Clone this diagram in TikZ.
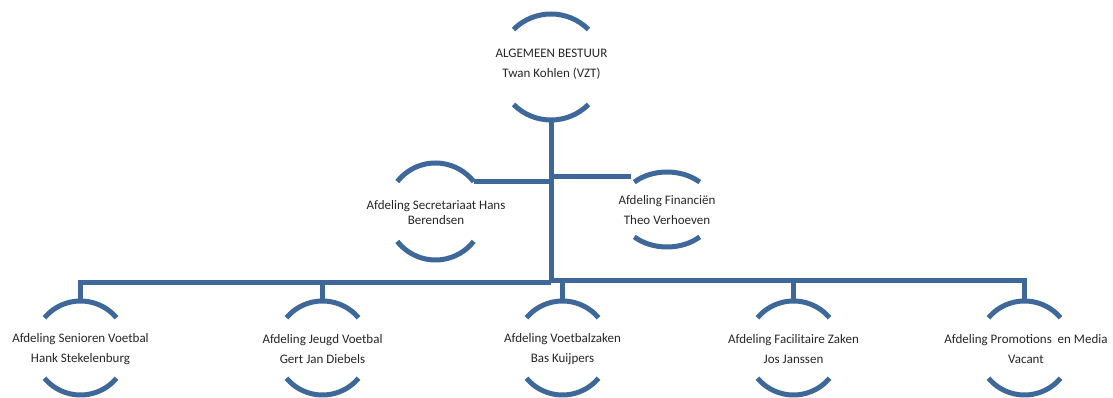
\documentclass[tikz,border=0pt]{standalone}
\usepackage{fontspec}
\setmainfont{Carlito}
\usetikzlibrary{calc}
\definecolor{orgblue}{HTML}{3E6899}
\tikzset{
  arcline/.style={draw=orgblue, line width=5pt},
  conn/.style={draw=orgblue, line width=5pt},
  unittext/.style={inner sep=0pt, align=center, font=\fontsize{13}{20}\selectfont, text=black!85},
}
% name, x, y, rx, ry, half-angle
\newcommand\orgunit[6]{%
  \coordinate (#1) at (#2,#3);
  \coordinate (#1-tl) at ($(#1)+({180-#6}:#4pt and #5pt)$);
  \coordinate (#1-tr) at ($(#1)+(#6:#4pt and #5pt)$);
  \coordinate (#1-t) at ($(#1)+(0,#5)$);
  \coordinate (#1-b) at ($(#1)+(0,-#5)$);
  \draw[arcline] (#1-tl) arc[start angle={180-#6}, end angle=#6, x radius=#4pt, y radius=#5pt];
  \draw[arcline] ($(#1)+({180+#6}:#4pt and #5pt)$) arc[start angle={180+#6}, end angle={360-#6}, x radius=#4pt, y radius=#5pt];
}
\begin{document}
\begin{tikzpicture}[x=1pt,y=1pt]
\useasboundingbox (0,0) rectangle (1113,398);
% units
\orgunit{top}{551}{331}{53}{53}{45}
\orgunit{sec}{435.5}{186.5}{48.5}{48.5}{38}
\orgunit{fin}{667}{188.5}{48}{37.5}{47}
\orgunit{b1}{80.5}{50}{47}{47}{40}
\orgunit{b2}{322.5}{50}{47}{47}{40}
\orgunit{b3}{562.5}{50}{47}{47}{40}
\orgunit{b4}{793.5}{50}{47}{47}{40}
\orgunit{b5}{1024.5}{50}{47}{47}{40}
% texts
\node[unittext] (top-text) at (551.5,333.5) {ALGEMEEN BESTUUR\\Twan Kohlen (VZT)};
\node[unittext, font=\fontsize{13}{15}\selectfont] (sec-text) at (436,185) {Afdeling Secretariaat Hans\\Berendsen};
\node[unittext] (fin-text) at (667,188) {Afdeling Financiën\\Theo Verhoeven};
\node[unittext] (b1-text) at (80.5,48.5) {Afdeling Senioren Voetbal\\Hank Stekelenburg};
\node[unittext] (b2-text) at (322.5,48.5) {Afdeling Jeugd Voetbal\\Gert Jan Diebels};
\node[unittext] (b3-text) at (562.5,48.5) {Afdeling Voetbalzaken\\Bas Kuijpers};
\node[unittext] (b4-text) at (793.5,48.5) {Afdeling Facilitaire Zaken\\Jos Janssen};
\node[unittext] (b5-text) at (1026,48.5) {Afdeling Promotions\ \ en Media\\Vacant};
% junction coordinates
\coordinate (jl) at (551,115);
\coordinate (jr) at (551,117);
\coordinate (finjoin) at (631,221);
% connectors
\draw[conn] (top-b) -- (jl);
\draw[conn] (sec-tr) -- (sec-tr -| top-b);
\draw[conn] (finjoin -| top-b) -- (finjoin);
\draw[conn] (jl) -| (b1-t);
\draw[conn] (jl) -| (b2-t);
\draw[conn] (jr) -| (b3-t);
\draw[conn] (jr) -| (b4-t);
\draw[conn] (jr) -| (b5-t);
\end{tikzpicture}
\end{document}
